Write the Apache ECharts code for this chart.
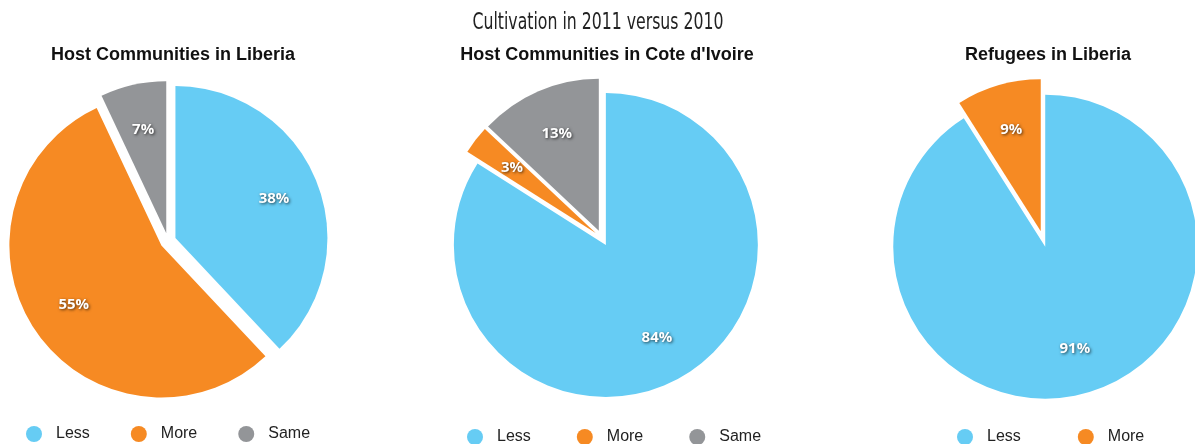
<!DOCTYPE html>
<html><head><meta charset="utf-8">
<script src="https://cdn.jsdelivr.net/npm/echarts@6/dist/echarts.min.js"></script>
<style>html,body{margin:0;padding:0;background:#fff}#c{width:1195px;height:444px}</style>
</head><body><div id="c"></div>
<script>
const mainTitle = 'Cultivation in 2011 versus 2010';
const chartTitles = ['Host Communities in Liberia', "Host Communities in Cote d'Ivoire", 'Refugees in Liberia'];
const categories1 = ['Less', 'More', 'Same'];
const values1 = [38, 55, 7];
const categories2 = ['Less', 'More', 'Same'];
const values2 = [84, 3, 13];
const categories3 = ['Less', 'More'];
const values3 = [91, 9];
const colors = {Less: '#66ccf4', More: '#f68a23', Same: '#939598'};

const centers = [[168, 241], [602, 238], [1043, 239]];
const R = 152;
const groups = [[categories1, values1], [categories2, values2], [categories3, values3]];

const series = [];
groups.forEach(([cats, vals], i) => {
  const data = cats.map((c, j) => ({name: c, value: vals[j], selected: true, itemStyle: {color: colors[c]}}));
  series.push({
    type: 'pie', center: centers[i], radius: [0, R], startAngle: 90, clockwise: true,
    selectedMode: 'multiple', selectedOffset: 8, silent: true, animation: false,
    emphasis: {disabled: true}, label: {show: false}, labelLine: {show: false},
    data: data
  });
  series.push({
    type: 'pie', center: centers[i], radius: [70, R], startAngle: 90, clockwise: true,
    silent: true, animation: false, emphasis: {disabled: true},
    itemStyle: {color: 'rgba(0,0,0,0)'},
    label: {show: true, position: 'inside', formatter: '{c}%', color: '#fff', fontWeight: 'bold',
      fontFamily: 'Open Sans', fontSize: 15,
      textShadowColor: 'rgba(0,0,0,0.7)', textShadowBlur: 3, textShadowOffsetX: 1, textShadowOffsetY: 1},
    labelLine: {show: false},
    data: cats.map((c, j) => ({name: c + ' ', value: vals[j]}))
  });
});

const legendPos = [[21, 421, 41], [462, 424, 46], [952, 424, 57]];
const legends = groups.map(([cats], i) => ({
  left: legendPos[i][0], top: legendPos[i][1], orient: 'horizontal',
  icon: 'circle', itemWidth: 16, itemHeight: 16, itemGap: legendPos[i][2], selectedMode: false,
  textStyle: {fontFamily: 'Liberation Sans', fontSize: 16, color: '#222', padding: [0, 0, 0, 9]},
  data: cats
}));

const titles = [];
chartTitles.forEach((t, i) => titles.push({text: t, left: centers[i][0], textAlign: 'center', top: 41,
  textStyle: {fontFamily: 'Liberation Sans', fontWeight: 'bold', fontSize: 18, color: '#111'}}));

const chart = echarts.init(document.getElementById('c'), null, {renderer: 'canvas'});
chart.setOption({
  animation: false, title: titles, legend: legends, series: series,
  graphic: [{type: 'text', x: 598, y: 23, scaleX: 0.76, silent: true,
    style: {text: mainTitle, x: 0, y: 0, align: 'center', verticalAlign: 'middle',
      font: "normal 23px 'DejaVu Sans Condensed', sans-serif", fill: '#222'}}]
});
</script></body></html>
